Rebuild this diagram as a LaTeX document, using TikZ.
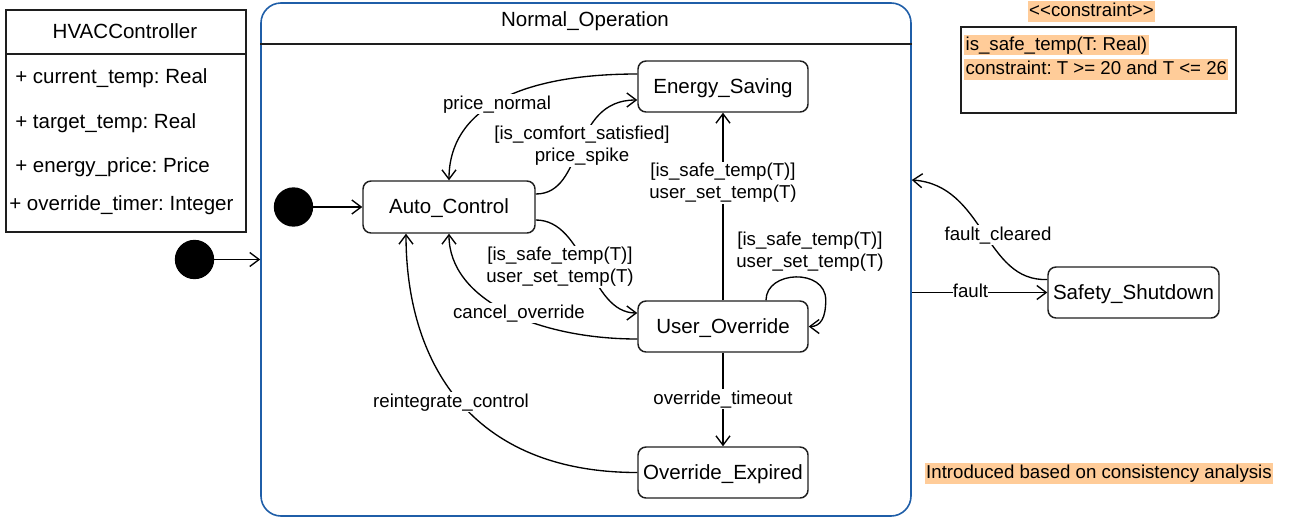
\documentclass[tikz,border=0pt]{standalone}
\usepackage{fontspec}
\setmainfont{Liberation Sans}
\usetikzlibrary{arrows.meta,calc}
\definecolor{noblue}{RGB}{31,94,168}
\definecolor{peach}{RGB}{255,204,153}
\definecolor{boxline}{RGB}{30,30,30}
\frenchspacing
\begin{document}
\begin{tikzpicture}[x=0.75pt,y=-0.75pt,
  font=\fontsize{14}{16.5}\selectfont,
  txt/.style={text height=10.5pt,text depth=3pt},
  bigtxt/.style={font=\fontsize{15.4}{18}\selectfont,text height=11.5pt,text depth=3.3pt},
  stbox/.style={draw=boxline,line width=1.1pt,rounded corners=6pt,minimum width=127.5pt,minimum height=38.25pt,inner sep=0pt,bigtxt,text depth=1.5pt},
  tr/.style={line width=1pt,-{Straight Barb[length=7pt,width=10.5pt]}},
  lbl/.style={fill=white,inner sep=1pt,align=center},
  initdot/.style={circle,fill=black,minimum size=29.5pt,inner sep=0pt},
  hl/.style={fill=peach,inner xsep=1pt,inner ysep=1pt,txt}
]
\useasboundingbox (0,0) rectangle (1292,518);
\coordinate (h1) at (0,44);
\coordinate (h2) at (0,54);

% class box
\node[draw=boxline,line width=1pt,minimum width=180pt,minimum height=166.5pt,inner sep=0pt] (CL) at (126,121) {};
\draw[boxline,line width=1pt] (CL.west |- h2) -- (CL.east |- h2);
\node[bigtxt] (CLt) at (125,33.5) {HVACController};
\node[bigtxt,anchor=west,inner sep=0pt] (a1) at (15,78.5) {+ current\_temp: Real};
\node[bigtxt,anchor=west,inner sep=0pt] (a2) at (15,123.5) {+ target\_temp: Real};
\node[bigtxt,anchor=west,inner sep=0pt] (a3) at (15,167.5) {+ energy\_price: Price};
\node[bigtxt,anchor=west,inner sep=0pt] (a4) at (9,205) {+ override\_timer: Integer};

% composite state
\node[draw=noblue,line width=1.2pt,rounded corners=15pt,minimum width=487.5pt,minimum height=384.75pt,inner sep=0pt] (NO) at (586,259.5) {};
\draw[boxline,line width=0.8pt] (NO.west |- h1) -- (NO.east |- h1);
\node[bigtxt] (NOt) at (585,21) {Normal\_Operation};

% states
\node[stbox,minimum width=129pt,minimum height=39pt] (AC) at (449,207) {Auto\_Control};
\node[stbox] (ES) at (723,86.5) {Energy\_Saving};
\node[stbox] (UO) at (723,326.5) {User\_Override};
\node[stbox] (OE) at (723,472.5) {Override\_Expired};
\node[stbox,minimum width=128.25pt] (SS) at (1133.5,292.5) {Safety\_Shutdown};

% initial pseudostates
\node[initdot] (i0) at (194.5,259.5) {};
\node[initdot] (i1) at (293.5,207) {};
\draw[tr] (i0) -- (i0 -| NO.west);
\draw[tr] (i1) -- (AC);

% transitions
\draw[tr] ($(ES.west)+(0,-12.5)$) .. controls +(-118,0) and +(0,-71) .. (AC.north);
\draw[tr] ($(AC.east)+(0,-13)$) .. controls +(50,0) and +(-68,0) .. ($(ES.west)+(0,13.5)$);
\draw[tr] ($(AC.east)+(0,13)$) .. controls +(50,0) and +(-48,0) .. ($(UO.west)+(0,-13.5)$);
\draw[tr] ($(UO.west)+(0,12.5)$) .. controls +(-98,0) and +(0,67) .. (AC.south);
\draw[tr] (OE.west) .. controls +(-168,0) and +(0,127) .. ($(AC.south)+(-43,0)$);
\draw[tr] (UO.north) -- (ES.south);
\draw[tr] ($(UO.north)+(43,0)$) .. controls +(0,-30) and +(0,-32) .. ($(UO.east)+(17,-26.5)$) .. controls +(0,18) and +(12,0) .. (UO.east);
\draw[tr] (UO.south) -- (OE.north);
\draw[tr] (NO.east |- SS.west) -- (SS.west);
\draw[tr] ($(SS.west)+(0,-13)$) .. controls +(-63,2.5) and +(73,5) .. ($(NO.east)+(0,-79.5)$);

% transition labels
\node[lbl,txt] (l1) at (497,104) {price\_normal};
\node[lbl] (l2) at (582,146) {[is\_comfort\_satisfied]\\price\_spike};
\node[lbl] (l3) at (560,267) {[is\_safe\_temp(T)]\\user\_set\_temp(T)};
\node[lbl,txt] (l4) at (519,313) {cancel\_override};
\node[lbl,txt] (l5) at (451,402) {reintegrate\_control};
\node[lbl] (l6) at (723,183) {[is\_safe\_temp(T)]\\user\_set\_temp(T)};
\node[lbl] (l7) at (810,252) {[is\_safe\_temp(T)]\\user\_set\_temp(T)};
\node[lbl,txt] (l8) at (723,399) {override\_timeout};
\node[lbl,txt,inner sep=0pt] (l9) at (970.5,292) {fault};
\node[lbl,txt] (l10) at (998,235) {fault\_cleared};

% constraint
\node[hl] (cst) at (1091.5,11.7) {{<}{<}constraint{>}{>}};
\node[draw=boxline,line width=1.2pt,minimum width=206.25pt,minimum height=64.5pt,inner sep=0pt] (CB) at (1098.5,70) {};
\node[hl,anchor=west] (c1) at (964,45) {is\_safe\_temp(T: Real)};
\node[hl,anchor=west] (c2) at (964,69.7) {constraint: T {>}= 20 and T {<}= 26};

\node[hl] (note) at (1099,473.3) {Introduced based on consistency analysis};
\end{tikzpicture}
\end{document}
